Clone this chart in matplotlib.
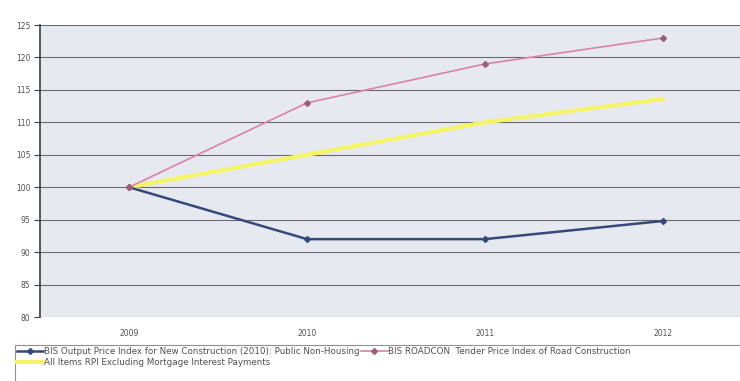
import matplotlib
matplotlib.use('Agg')
import matplotlib.pyplot as plt
from matplotlib.patches import Rectangle

years = ['2009', '2010', '2011', '2012']
bis_output = [100, 92, 92, 94.8]
roadcon = [100, 113, 119, 123]
rpix = [100, 105, 110, 113.6]

labels = ['BIS Output Price Index for New Construction (2010): Public Non-Housing',
          'All Items RPI Excluding Mortgage Interest Payments',
          'BIS ROADCON  Tender Price Index of Road Construction']

fig = plt.figure(figsize=(7.4, 3.81), dpi=100)
fig.patch.set_facecolor('white')
ax = fig.add_axes([40/740, 1-317/381, 712/740, (317-25)/381])
ax.set_facecolor('#e7e9f1')

x = range(len(years))
l1, = ax.plot(x, bis_output, color='#34497a', lw=1.8, marker='D', ms=3, zorder=4)
l3, = ax.plot(x, roadcon, color='#d983a8', lw=1.2, marker='D', ms=3,
              mfc='#9c5c7c', mec='#9c5c7c', zorder=4)
l2, = ax.plot(x, rpix, color='#f4f466', lw=3, zorder=3)

ax.set_xlim(-0.5, 3.5)
ax.set_ylim(80, 125)
ax.set_yticks(range(80, 126, 5))
ax.set_xticks(list(x))
ax.set_xticklabels(years)
ax.grid(axis='y', color='#6a6a6a', lw=0.8)
ax.set_axisbelow(True)
for s in ['top', 'right', 'bottom']:
    ax.spines[s].set_visible(False)
ax.spines['left'].set_color('#404040')
ax.spines['left'].set_linewidth(1.2)
ax.tick_params(axis='y', length=4, color='#404040', labelsize=5.5,
               labelcolor='#505050', pad=3)
ax.tick_params(axis='x', length=0, labelsize=5.5, labelcolor='#505050', pad=9)

# legend box runs off the right edge of the scan
fig.patches.append(Rectangle((15/740, -0.05), 0.99, 1-345/381+0.05,
                             transform=fig.transFigure, fill=False,
                             edgecolor='#909090', lw=0.8))
leg = fig.legend([l1, l2, l3], labels, ncol=2, loc='upper left',
                 bbox_to_anchor=(15/740, 1-345/381), fontsize=6.3,
                 frameon=False, handlelength=3.0,
                 handletextpad=0.1, columnspacing=0.2, labelspacing=0.25,
                 borderpad=0.2, borderaxespad=0)
for t in leg.get_texts():
    t.set_color('#505050')

fig.savefig('out.png', dpi=100)
